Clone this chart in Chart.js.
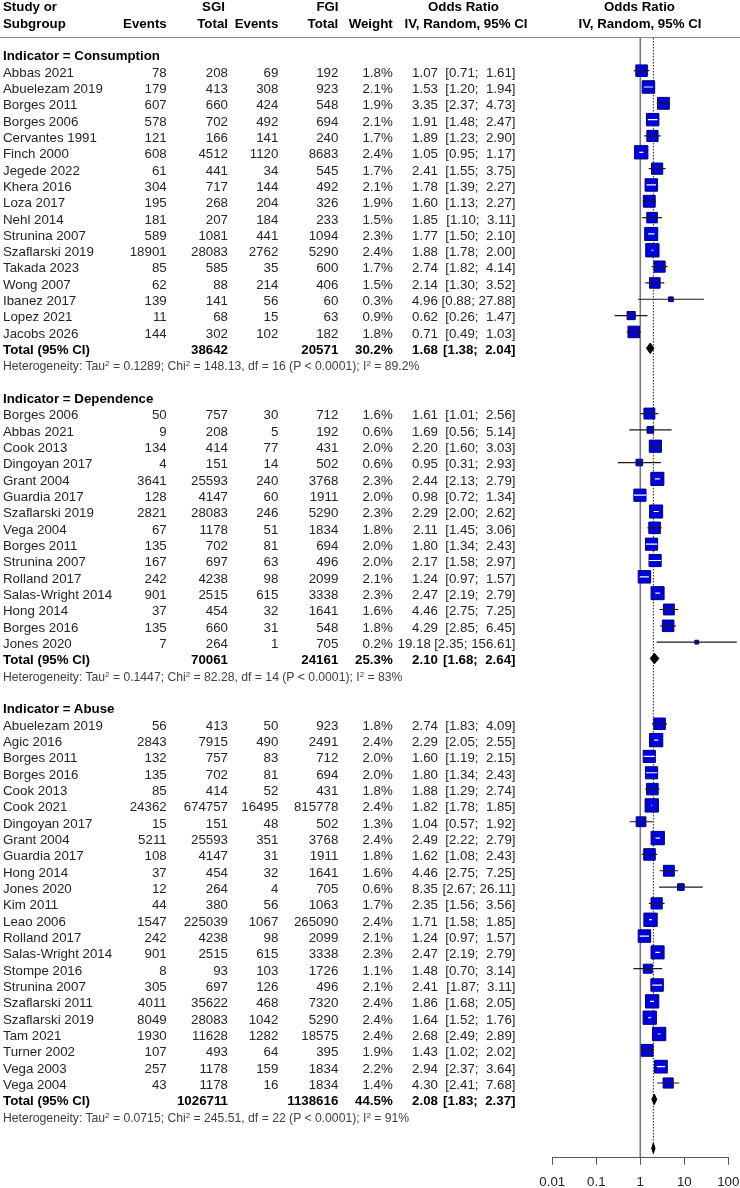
<!DOCTYPE html>
<html>
<head>
<meta charset="utf-8">
<script src="https://cdn.jsdelivr.net/npm/chart.js@4.4.1/dist/chart.umd.min.js"></script>
<style>
  body { margin: 0; background: #fff; }
  #wrap { position: relative; width: 740px; height: 1188px; overflow: hidden;
          font-family: "Liberation Sans", Arial, sans-serif; font-size: 13.3px; color: #262626; }
  #forest { position: absolute; left: 0; top: 0; }
  .t { position: absolute; white-space: pre; line-height: 16px; }
  .b { font-weight: bold; color: #000; }
  .het { font-size: 12.2px; color: #404040; }
  .het sup { font-size: 0.65em; line-height: 0; vertical-align: 0.55em; }
  .rule { position: absolute; left: 0; top: 37.3px; width: 740px; height: 0; border-top: 1.5px solid #8a8a8a; }
</style>
</head>
<body>
<div id="wrap">
  <canvas id="forest" width="740" height="1188"></canvas>
  <div class="rule"></div>
</div>
<script>
// forest plot data
const xTicks = [0.01, 0.1, 1, 10, 100];
const groupLabels = ['Indicator = Consumption', 'Indicator = Dependence', 'Indicator = Abuse'];
const groupSizes = [17, 15, 23];

const studies = [
  'Abbas 2021', 'Abuelezam 2019', 'Borges 2011', 'Borges 2006', 'Cervantes 1991', 'Finch 2000',
  'Jegede 2022', 'Khera 2016', 'Loza 2017', 'Nehl 2014', 'Strunina 2007', 'Szaflarski 2019',
  'Takada 2023', 'Wong 2007', 'Ibanez 2017', 'Lopez 2021', 'Jacobs 2026',
  'Borges 2006', 'Abbas 2021', 'Cook 2013', 'Dingoyan 2017', 'Grant 2004', 'Guardia 2017',
  'Szaflarski 2019', 'Vega 2004', 'Borges 2011', 'Strunina 2007', 'Rolland 2017',
  'Salas-Wright 2014', 'Hong 2014', 'Borges 2016', 'Jones 2020',
  'Abuelezam 2019', 'Agic 2016', 'Borges 2011', 'Borges 2016', 'Cook 2013', 'Cook 2021',
  'Dingoyan 2017', 'Grant 2004', 'Guardia 2017', 'Hong 2014', 'Jones 2020', 'Kim 2011',
  'Leao 2006', 'Rolland 2017', 'Salas-Wright 2014', 'Stompe 2016', 'Strunina 2007',
  'Szaflarski 2011', 'Szaflarski 2019', 'Tam 2021', 'Turner 2002', 'Vega 2003', 'Vega 2004'
];
const sgiEvents = [
  78, 179, 607, 578, 121, 608, 61, 304, 195, 181, 589, 18901, 85, 62, 139, 11, 144,
  50, 9, 134, 4, 3641, 128, 2821, 67, 135, 167, 242, 901, 37, 135, 7,
  56, 2843, 132, 135, 85, 24362, 15, 5211, 108, 37, 12, 44, 1547, 242, 901, 8, 305, 4011, 8049, 1930, 107, 257, 43
];
const sgiTotal = [
  208, 413, 660, 702, 166, 4512, 441, 717, 268, 207, 1081, 28083, 585, 88, 141, 68, 302,
  757, 208, 414, 151, 25593, 4147, 28083, 1178, 702, 697, 4238, 2515, 454, 660, 264,
  413, 7915, 757, 702, 414, 674757, 151, 25593, 4147, 454, 264, 380, 225039, 4238, 2515, 93, 697, 35622, 28083, 11628, 493, 1178, 1178
];
const fgiEvents = [
  69, 308, 424, 492, 141, 1120, 34, 144, 204, 184, 441, 2762, 35, 214, 56, 15, 102,
  30, 5, 77, 14, 240, 60, 246, 51, 81, 63, 98, 615, 32, 31, 1,
  50, 490, 83, 81, 52, 16495, 48, 351, 31, 32, 4, 56, 1067, 98, 615, 103, 126, 468, 1042, 1282, 64, 159, 16
];
const fgiTotal = [
  192, 923, 548, 694, 240, 8683, 545, 492, 326, 233, 1094, 5290, 600, 406, 60, 63, 182,
  712, 192, 431, 502, 3768, 1911, 5290, 1834, 694, 496, 2099, 3338, 1641, 548, 705,
  923, 2491, 712, 694, 431, 815778, 502, 3768, 1911, 1641, 705, 1063, 265090, 2099, 3338, 1726, 496, 7320, 5290, 18575, 395, 1834, 1834
];
const weights = [
  1.8, 2.1, 1.9, 2.1, 1.7, 2.4, 1.7, 2.1, 1.9, 1.5, 2.3, 2.4, 1.7, 1.5, 0.3, 0.9, 1.8,
  1.6, 0.6, 2.0, 0.6, 2.3, 2.0, 2.3, 1.8, 2.0, 2.0, 2.1, 2.3, 1.6, 1.8, 0.2,
  1.8, 2.4, 2.0, 2.0, 1.8, 2.4, 1.3, 2.4, 1.8, 1.6, 0.6, 1.7, 2.4, 2.1, 2.3, 1.1, 2.1, 2.4, 2.4, 2.4, 1.9, 2.2, 1.4
];
const orEst = [
  1.07, 1.53, 3.35, 1.91, 1.89, 1.05, 2.41, 1.78, 1.60, 1.85, 1.77, 1.88, 2.74, 2.14, 4.96, 0.62, 0.71,
  1.61, 1.69, 2.20, 0.95, 2.44, 0.98, 2.29, 2.11, 1.80, 2.17, 1.24, 2.47, 4.46, 4.29, 19.18,
  2.74, 2.29, 1.60, 1.80, 1.88, 1.82, 1.04, 2.49, 1.62, 4.46, 8.35, 2.35, 1.71, 1.24, 2.47, 1.48, 2.41, 1.86, 1.64, 2.68, 1.43, 2.94, 4.30
];
const orLow = [
  0.71, 1.20, 2.37, 1.48, 1.23, 0.95, 1.55, 1.39, 1.13, 1.10, 1.50, 1.78, 1.82, 1.30, 0.88, 0.26, 0.49,
  1.01, 0.56, 1.60, 0.31, 2.13, 0.72, 2.00, 1.45, 1.34, 1.58, 0.97, 2.19, 2.75, 2.85, 2.35,
  1.83, 2.05, 1.19, 1.34, 1.29, 1.78, 0.57, 2.22, 1.08, 2.75, 2.67, 1.56, 1.58, 0.97, 2.19, 0.70, 1.87, 1.68, 1.52, 2.49, 1.02, 2.37, 2.41
];
const orHigh = [
  1.61, 1.94, 4.73, 2.47, 2.90, 1.17, 3.75, 2.27, 2.27, 3.11, 2.10, 2.00, 4.14, 3.52, 27.88, 1.47, 1.03,
  2.56, 5.14, 3.03, 2.93, 2.79, 1.34, 2.62, 3.06, 2.43, 2.97, 1.57, 2.79, 7.25, 6.45, 156.61,
  4.09, 2.55, 2.15, 2.43, 2.74, 1.85, 1.92, 2.79, 2.43, 7.25, 26.11, 3.56, 1.85, 1.57, 2.79, 3.14, 3.11, 2.05, 1.76, 2.89, 2.02, 3.64, 7.68
];

// subgroup totals and heterogeneity
const totalSgi = [38642, 70061, 1026711];
const totalFgi = [20571, 24161, 1138616];
const totalWeight = [30.2, 25.3, 44.5];
const totalEst = [1.68, 2.10, 2.08];
const totalLow = [1.38, 1.68, 1.83];
const totalHigh = [2.04, 2.64, 2.37];
const hetTau2 = ['0.1289', '0.1447', '0.0715'];
const hetChi2 = ['148.13', '82.28', '245.51'];
const hetDf = [16, 14, 22];
const hetI2 = ['89.2%', '83%', '91%'];

// overall (no text row, only the diamond + dotted line)
const overallEst = 1.98;
const overallLow = 1.82;
const overallHigh = 2.16;

// ---- row layout ----
const rows = [];
const studyRow = [];
let r = 0, k = 0;
groupLabels.forEach((lab, g) => {
  rows.push({ kind: 'head', g, r: r++ });
  for (let j = 0; j < groupSizes[g]; j++) {
    studyRow[k] = r;
    rows.push({ kind: 'study', i: k++, r: r++ });
  }
  rows.push({ kind: 'total', g, r: r++ });
  rows.push({ kind: 'het', g, r: r++ });
  r++;
});
const overallRow = r;

const boxSide = weights.map(w => 8.6 * Math.sqrt(w));

function diamond(lo, est, hi, row) {
  return [
    { x: lo, y: row }, { x: est, y: row - 0.32 }, { x: hi, y: row },
    { x: est, y: row + 0.32 }, { x: lo, y: row }
  ];
}

const lineDs = (data, extra) => Object.assign({
  type: 'line', data, pointRadius: 0, borderWidth: 1, fill: false, tension: 0, spanGaps: false
}, extra);

const datasets = [
  lineDs([], { label: 'ciOut', borderColor: '#1a1a1a', borderWidth: 1.2, clip: false, order: 0 }),
  lineDs([], { label: 'ciIn', borderColor: '#ffffff', borderWidth: 1.2, order: 0 }),
  {
    type: 'scatter', label: 'boxes', order: 1,
    data: studies.map((s, i) => ({ x: orEst[i], y: studyRow[i] })),
    pointStyle: 'rect',
    pointRadius: boxSide.map(s => s / Math.SQRT2),
    backgroundColor: '#0000dc', borderColor: '#00007a', borderWidth: 1
  }
];
groupLabels.forEach((lab, g) => {
  const tr = rows.find(o => o.kind === 'total' && o.g === g).r;
  datasets.push(lineDs(diamond(totalLow[g], totalEst[g], totalHigh[g], tr),
    { label: 'total' + g, borderColor: '#000', backgroundColor: '#000', fill: 'shape', order: 2 }));
});
datasets.push(lineDs(diamond(overallLow, overallEst, overallHigh, overallRow),
  { label: 'overall', borderColor: '#000', backgroundColor: '#000', fill: 'shape', order: 2 }));
datasets.push(lineDs([{ x: 1, y: -1 }, { x: 1, y: overallRow + 0.55 }],
  { label: 'null', borderColor: '#7a7a7a', borderWidth: 1.6, order: 5 }));
datasets.push(lineDs([{ x: overallEst, y: -1 }, { x: overallEst, y: overallRow }],
  { label: 'overallRef', borderColor: '#222', borderWidth: 1, borderDash: [1.5, 1.5], order: 4 }));

const chart = new Chart(document.getElementById('forest'), {
  type: 'scatter',
  data: { datasets },
  options: {
    responsive: false,
    animation: false,
    devicePixelRatio: 1,
    events: [],
    layout: { padding: { left: 552.3, right: 11.7, top: 38, bottom: 0 } },
    plugins: { legend: { display: false }, tooltip: { enabled: false } },
    scales: {
      x: {
        type: 'logarithmic', min: 0.01, max: 100, position: 'bottom',
        afterBuildTicks: s => { s.ticks = xTicks.map(v => ({ value: v })); },
        // fixed axis band; tick labels may overhang the plot edges
        afterFit: s => { s.height = 30.7; s.paddingLeft = 0; s.paddingRight = 0; },
        grid: { drawOnChartArea: false, drawTicks: true, tickLength: 7.5, color: '#555' },
        border: { display: true, color: '#555', width: 1 },
        ticks: {
          autoSkip: false, maxRotation: 0, padding: 10, color: '#222',
          font: { family: 'Liberation Sans', size: 13.3 },
          callback: v => String(v)
        }
      },
      y: { type: 'linear', display: false, reverse: true, min: -1, max: overallRow + 0.55 }
    }
  }
});

// white CI line if it sits inside the square, dark otherwise
const xs = chart.scales.x;
const ciIn = [], ciOut = [];
studies.forEach((s, i) => {
  const w = xs.getPixelForValue(orHigh[i]) - xs.getPixelForValue(orLow[i]);
  const seg = [{ x: orLow[i], y: studyRow[i] }, { x: orHigh[i], y: studyRow[i] }, { x: orHigh[i], y: null }];
  (w < boxSide[i] ? ciIn : ciOut).push(...seg);
});
chart.data.datasets[0].data = ciOut;
chart.data.datasets[1].data = ciIn;
chart.update('none');

// ---- table text ----
const wrap = document.getElementById('wrap');
function txt(html, x, yc, align, cls) {
  const d = document.createElement('div');
  d.className = 't ' + (cls || '');
  d.innerHTML = html;
  d.style.top = (yc - 7.8) + 'px';
  if (align === 'right') d.style.right = (740 - x) + 'px';
  else if (align === 'center') { d.style.left = (x - 150) + 'px'; d.style.width = '300px'; d.style.textAlign = 'center'; }
  else d.style.left = x + 'px';
  wrap.appendChild(d);
  return d;
}

const col = { name: 3, ev1: 166.7, tot1: 228, ev2: 278.3, tot2: 338.3, wt: 392.7, est: 438, ci: 515.5 };

// header
txt('Study or', col.name, 6.7, 'left', 'b');
txt('Subgroup', col.name, 23.3, 'left', 'b');
txt('SGI', 213.5, 6.7, 'center', 'b');
txt('FGI', 327.5, 6.7, 'center', 'b');
txt('Events', col.ev1, 23.3, 'right', 'b');
txt('Total', col.tot1, 23.3, 'right', 'b');
txt('Events', col.ev2, 23.3, 'right', 'b');
txt('Total', col.tot2, 23.3, 'right', 'b');
txt('Weight', col.wt, 23.3, 'right', 'b');
txt('Odds Ratio', 463.5, 6.7, 'center', 'b');
txt('IV, Random, 95% CI', 466, 23.3, 'center', 'b');
txt('Odds Ratio', 639.5, 6.7, 'center', 'b');
txt('IV, Random, 95% CI', 640, 23.3, 'center', 'b');

const ys = chart.scales.y;
const ciText = (lo, hi) => '[' + lo.toFixed(2) + ';' + (hi.toFixed(2).length > 4 ? ' ' : '  ') + hi.toFixed(2) + ']';

// estimate right-aligned, pushed left when a wide CI string needs the room
function orCell(est, lo, hi, yc, cls) {
  const ci = txt(ciText(lo, hi), col.ci, yc, 'right', cls);
  const ciLeft = col.ci - ci.offsetWidth;
  txt(est.toFixed(2), Math.min(col.est, ciLeft - 3.7), yc, 'right', cls);
}

rows.forEach(o => {
  const yc = ys.getPixelForValue(o.r) + 1.7;
  if (o.kind === 'head') {
    txt(groupLabels[o.g], col.name, yc, 'left', 'b');
  } else if (o.kind === 'study') {
    const i = o.i;
    txt(studies[i], col.name, yc, 'left');
    txt(String(sgiEvents[i]), col.ev1, yc, 'right');
    txt(String(sgiTotal[i]), col.tot1, yc, 'right');
    txt(String(fgiEvents[i]), col.ev2, yc, 'right');
    txt(String(fgiTotal[i]), col.tot2, yc, 'right');
    txt(weights[i].toFixed(1) + '%', col.wt, yc, 'right');
    orCell(orEst[i], orLow[i], orHigh[i], yc);
  } else if (o.kind === 'total') {
    const g = o.g;
    txt('Total (95% CI)', col.name, yc, 'left', 'b');
    txt(String(totalSgi[g]), col.tot1, yc, 'right', 'b');
    txt(String(totalFgi[g]), col.tot2, yc, 'right', 'b');
    txt(totalWeight[g].toFixed(1) + '%', col.wt, yc, 'right', 'b');
    orCell(totalEst[g], totalLow[g], totalHigh[g], yc, 'b');
  } else if (o.kind === 'het') {
    const g = o.g;
    txt('Heterogeneity: Tau<sup>2</sup> = ' + hetTau2[g] + '; Chi<sup>2</sup> = ' + hetChi2[g] +
        ', df = ' + hetDf[g] + ' (P &lt; 0.0001); I<sup>2</sup> = ' + hetI2[g], col.name, yc, 'left', 'het');
  }
});
</script>
</body>
</html>
